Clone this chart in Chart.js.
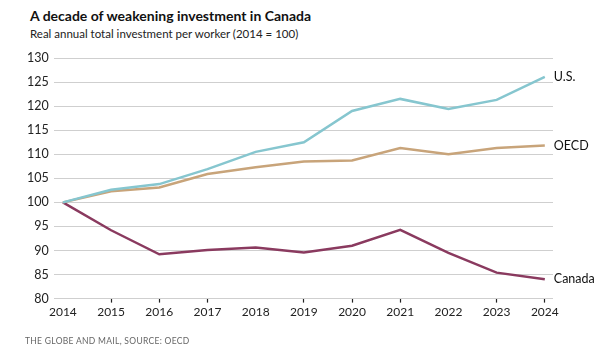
<!DOCTYPE html>
<html>
<head>
<meta charset="utf-8">
<script src="https://cdn.jsdelivr.net/npm/chart.js@4.4.1/dist/chart.umd.min.js"></script>
<style>
    html, body { margin: 0; padding: 0; background: #fff; }
    body { width: 613px; height: 359px; position: relative; overflow: hidden; font-family: Lato, "Noto Sans", sans-serif; }
    #title { position: absolute; left: 30px; top: 7px; font-size: 14px; font-weight: 700; color: #111; }
    #subtitle { position: absolute; left: 30px; top: 27px; font-size: 11.5px; color: #222; }
    #footer { position: absolute; left: 25px; top: 336px; font-size: 8.5px; color: #666; letter-spacing: 0.3px; }
    #wrap { position: absolute; left: 0; top: 0; width: 613px; height: 359px; }
</style>
</head>
<body>
<div id="title">A decade of weakening investment in Canada</div>
<div id="subtitle">Real annual total investment per worker (2014 = 100)</div>
<div id="wrap"><canvas id="chart"></canvas></div>
<div id="footer">THE GLOBE AND MAIL, SOURCE: OECD</div>
<script>
const years = [2014, 2015, 2016, 2017, 2018, 2019, 2020, 2021, 2022, 2023, 2024];
const usValues = [100, 102.6, 103.8, 106.9, 110.5, 112.5, 119.0, 121.5, 119.4, 121.3, 126.1];
const oecdValues = [100, 102.3, 103.1, 105.9, 107.3, 108.5, 108.7, 111.3, 110.0, 111.3, 111.8];
const canadaValues = [100, 94.2, 89.2, 90.1, 90.6, 89.6, 91.0, 94.3, 89.5, 85.4, 84.0];
const seriesNames = ['U.S.', 'OECD', 'Canada'];
const seriesColors = ['#86c6cf', '#c8a47a', '#8a3a5f'];
const yTicks = [80, 85, 90, 95, 100, 105, 110, 115, 120, 125, 130];
const noTickYears = [2014, 2018, 2022];

function toPoints(values) {
    return values.map((v, i) => ({ x: years[i], y: v }));
}

// labels at the end of each line
const endLabels = {
    id: 'endLabels',
    afterDatasetsDraw(chart) {
        const ctx = chart.ctx;
        ctx.save();
        ctx.font = '12.5px Lato, "Noto Sans", sans-serif';
        ctx.fillStyle = '#111';
        ctx.textBaseline = 'middle';
        chart.data.datasets.forEach((ds, i) => {
            const meta = chart.getDatasetMeta(i);
            const last = meta.data[meta.data.length - 1];
            ctx.fillText(ds.label, last.x + 9, last.y);
        });
        ctx.restore();
    }
};

const ctx = document.getElementById('chart').getContext('2d');
new Chart(ctx, {
    type: 'line',
    data: {
        datasets: [usValues, oecdValues, canadaValues].map((vals, i) => ({
            label: seriesNames[i],
            data: toPoints(vals),
            borderColor: seriesColors[i],
            borderWidth: 2.5,
            pointRadius: 0,
            tension: 0,
            fill: false
        }))
    },
    options: {
        responsive: true,
        maintainAspectRatio: false,
        animation: false,
        layout: { padding: { top: 58, right: 60, bottom: 38, left: 22 } },
        plugins: {
            legend: { display: false },
            tooltip: { enabled: false }
        },
        scales: {
            x: {
                type: 'linear',
                min: 2013.81,
                max: 2024.17,
                afterBuildTicks(axis) {
                    axis.ticks = years.map(y => ({ value: y }));
                },
                grid: {
                    display: true,
                    drawOnChartArea: false,
                    drawTicks: true,
                    tickLength: 4,
                    tickWidth: 1.2,
                    color: ctx => noTickYears.includes(ctx.tick && ctx.tick.value) ? 'rgba(0,0,0,0)' : '#222'
                },
                border: { display: false },
                ticks: {
                    color: '#222',
                    padding: 2,
                    maxRotation: 0,
                    autoSkip: false,
                    font: { family: 'Lato, "Noto Sans", sans-serif', size: 12 },
                    callback: v => String(v)
                }
            },
            y: {
                min: 80,
                max: 130,
                afterBuildTicks(axis) {
                    axis.ticks = yTicks.map(v => ({ value: v }));
                },
                grid: {
                    color: '#cfcfcf',
                    lineWidth: 1,
                    drawTicks: false
                },
                border: { display: false },
                ticks: {
                    color: '#222',
                    padding: 5,
                    font: { family: 'Lato, "Noto Sans", sans-serif', size: 12.5 }
                }
            }
        }
    },
    plugins: [endLabels]
});
</script>
</body>
</html>
